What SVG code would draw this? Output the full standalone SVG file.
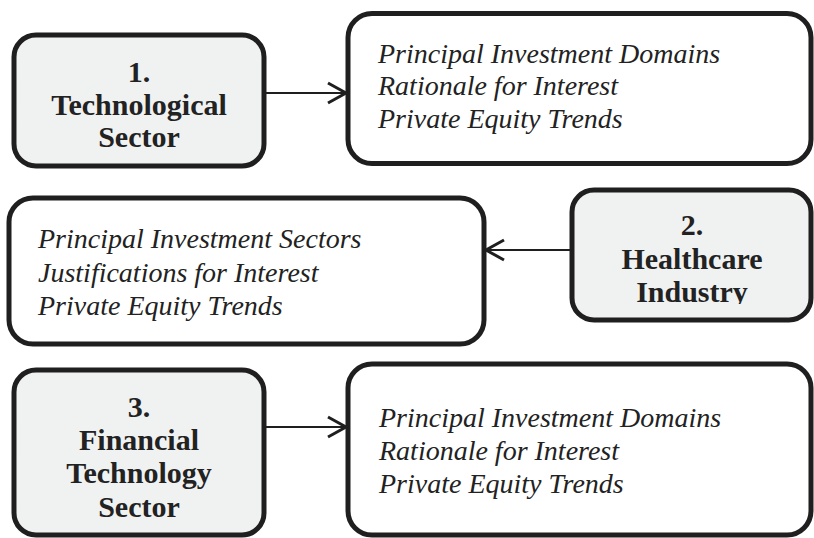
<svg xmlns="http://www.w3.org/2000/svg" width="814" height="538" viewBox="0 0 814 538">
  <style>
    .sector { fill: #f0f1f1; stroke: #1f1f1f; stroke-width: 5; }
    .detail { fill: #ffffff; stroke: #1f1f1f; stroke-width: 5; }
    .title { font-family: "Liberation Serif", "DejaVu Serif", serif; font-weight: bold; font-size: 30px; fill: #222; text-anchor: middle; }
    .item { font-family: "Liberation Serif", "DejaVu Serif", serif; font-style: italic; font-size: 28px; fill: #222; }
    .link { stroke: #1f1f1f; stroke-width: 2.2; fill: none; }
  </style>
  <defs>
    <marker id="chevron" markerUnits="userSpaceOnUse" markerWidth="24" markerHeight="24" refX="20" refY="12" orient="auto">
      <path d="M2,2 L20,12 L2,22" fill="none" stroke="#1f1f1f" stroke-width="3"/>
    </marker>
    <clipPath id="clip-health">
      <rect x="572" y="190" width="240" height="114"/>
    </clipPath>
  </defs>
  <rect x="0" y="0" width="814" height="538" fill="#ffffff"/>

  <!-- Sector 1 -->
  <g id="node-tech">
    <rect class="sector" x="14" y="35" width="250" height="131" rx="22"/>
    <text class="title" x="139" y="82">1.</text>
    <text class="title" x="139" y="115">Technological</text>
    <text class="title" x="139" y="147">Sector</text>
  </g>
  <g id="node-tech-detail">
    <rect class="detail" x="348" y="13.5" width="463" height="150" rx="24"/>
    <text class="item" x="378" y="63">Principal Investment Domains</text>
    <text class="item" x="378" y="95">Rationale for Interest</text>
    <text class="item" x="378" y="128">Private Equity Trends</text>
  </g>

  <!-- Sector 2 -->
  <g id="node-health-detail">
    <rect class="detail" x="9" y="198" width="475" height="146" rx="24"/>
    <text class="item" x="38" y="248">Principal Investment Sectors</text>
    <text class="item" x="38" y="282">Justifications for Interest</text>
    <text class="item" x="38" y="315">Private Equity Trends</text>
  </g>
  <g id="node-health">
    <rect class="sector" x="572" y="190" width="239" height="130" rx="22"/>
    <g clip-path="url(#clip-health)">
      <text class="title" x="692" y="235">2.</text>
      <text class="title" x="692" y="269">Healthcare</text>
      <text class="title" x="692" y="302">Industry</text>
    </g>
  </g>

  <!-- Sector 3 -->
  <g id="node-fintech">
    <rect class="sector" x="14" y="370" width="250" height="165" rx="22"/>
    <text class="title" x="139" y="417">3.</text>
    <text class="title" x="139" y="450">Financial</text>
    <text class="title" x="139" y="483">Technology</text>
    <text class="title" x="139" y="517">Sector</text>
  </g>
  <g id="node-fintech-detail">
    <rect class="detail" x="348" y="364" width="463" height="171" rx="24"/>
    <text class="item" x="379" y="427">Principal Investment Domains</text>
    <text class="item" x="379" y="460">Rationale for Interest</text>
    <text class="item" x="379" y="493">Private Equity Trends</text>
  </g>

  <!-- Connectors -->
  <g id="connectors">
    <line class="link" x1="266" y1="93" x2="346" y2="93" marker-end="url(#chevron)"/>
    <line class="link" x1="570" y1="250" x2="486" y2="250" marker-end="url(#chevron)"/>
    <line class="link" x1="266" y1="427" x2="346" y2="427" marker-end="url(#chevron)"/>
  </g>
</svg>
